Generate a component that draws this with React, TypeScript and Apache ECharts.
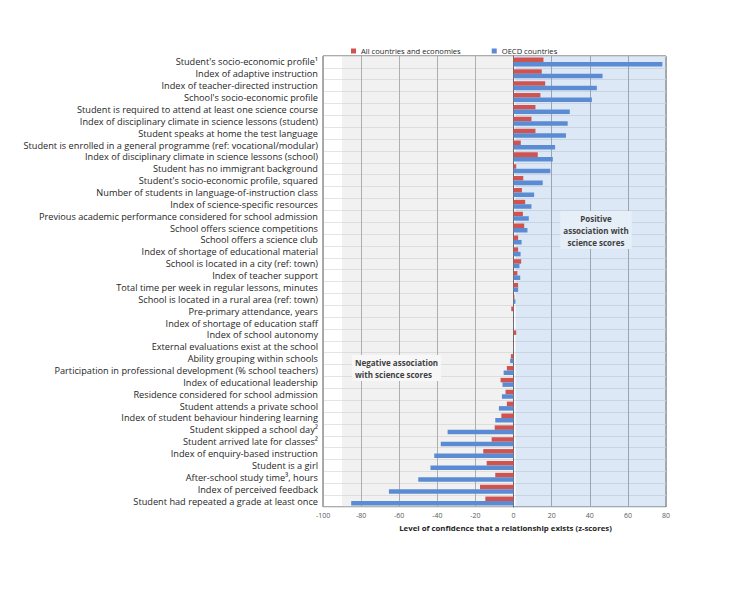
import React, { useEffect, useRef } from "react";
import * as echarts from "echarts";

const categories = [
  "Student's socio-economic profile¹",
  "Index of adaptive instruction",
  "Index of teacher-directed instruction",
  "School's socio-economic profile",
  "Student is required to attend at least one science course",
  "Index of disciplinary climate in science lessons (student)",
  "Student speaks at home the test language",
  "Student is enrolled in a general programme (ref: vocational/modular)",
  "Index of disciplinary climate in science lessons (school)",
  "Student has no immigrant background",
  "Student's socio-economic profile, squared",
  "Number of students in language-of-instruction class",
  "Index of science-specific resources",
  "Previous academic performance considered for school admission",
  "School offers science competitions",
  "School offers a science club",
  "Index of shortage of educational material",
  "School is located in a city (ref: town)",
  "Index of teacher support",
  "Total time per week in regular lessons, minutes",
  "School is located in a rural area (ref: town)",
  "Pre-primary attendance, years",
  "Index of shortage of education staff",
  "Index of school autonomy",
  "External evaluations exist at the school",
  "Ability grouping within schools",
  "Participation in professional development (% school teachers)",
  "Index of educational leadership",
  "Residence considered for school admission",
  "Student attends a private school",
  "Index of student behaviour hindering learning",
  "Student skipped a school day²",
  "Student arrived late for classes²",
  "Index of enquiry-based instruction",
  "Student is a girl",
  "After-school study time³, hours",
  "Index of perceived feedback",
  "Student had repeated a grade at least once",
];

const allCountries = [
  15.7, 14.8, 16.6, 14.1, 11.5, 9.4, 11.5, 3.8, 12.7, 1.4, 5.1, 4.4, 6.1, 4.9,
  5.6, 2.4, 2.4, 4.0, 2.0, 2.4, 0.5, -1.2, 0.1, 1.4, 0.2, -1.4, -3.5, -6.8,
  -4.2, -3.5, -6.4, -9.9, -11.5, -15.9, -14.1, -9.6, -17.6, -14.8,
];

const oecdCountries = [
  78.1, 46.7, 43.7, 41.1, 29.5, 28.4, 27.5, 21.8, 20.6, 19.3, 15.3, 10.8, 9.4,
  8.0, 7.3, 4.2, 3.7, 3.1, 3.5, 2.4, 1.0, 0.2, -0.2, 0.1, -0.2, -1.8, -5.2,
  -5.8, -6.1, -7.7, -9.6, -34.6, -38.2, -41.6, -43.6, -50.0, -65.4, -85.2,
];

const seriesNames = ["All countries and economies", "OECD countries"];
const xMin = -100;
const xMax = 80;
const xStep = 20;
const negativeZone = [-90, 0];
const positiveZone = [1, 80];

export default function App() {
  const ref = useRef<HTMLDivElement>(null);
  useEffect(() => {
    if (!ref.current) return;
    const chart = echarts.init(ref.current, null, { renderer: "svg" });
    const font = "'Open Sans', 'Liberation Sans', Arial, sans-serif";
    chart.setOption({
      animation: false,
      textStyle: { fontFamily: font },
      legend: {
        data: seriesNames,
        top: 34,
        left: 338,
        itemWidth: 5,
        itemHeight: 5,
        icon: "rect",
        itemGap: 31,
        textStyle: { fontSize: 7.6, color: "#262626", fontFamily: font },
      },
      grid: {
        left: 315,
        right: 59,
        top: 48,
        bottom: 76,
        show: true,
        borderColor: "#595959",
        borderWidth: 1,
        backgroundColor: "transparent",
      },
      xAxis: {
        type: "value",
        min: xMin,
        max: xMax,
        interval: xStep,
        axisLine: { show: false },
        axisTick: { show: false },
        axisLabel: { fontSize: 7, color: "#595959", margin: 5 },
        splitLine: { lineStyle: { color: "#a6a6a6", width: 1 } },
        name: "Level of confidence that a relationship exists (z-scores)",
        nameLocation: "middle",
        nameGap: 17,
        nameTextStyle: {
          fontSize: 7.8,
          fontWeight: "bold",
          color: "#262626",
          padding: [0, 0, 0, 22],
        },
      },
      yAxis: {
        type: "category",
        inverse: true,
        data: categories,
        axisLine: { show: true, lineStyle: { color: "#595959" } },
        axisTick: { show: false },
        axisLabel: {
          fontSize: 9.2,
          color: "#262626",
          margin: 5,
          interval: 0,
        },
        splitLine: { show: true, lineStyle: { color: "#e4e4e4", width: 1 } },
      },
      series: [
        {
          type: "line",
          data: [],
          silent: true,
          markArea: {
            silent: true,
            data: [
              [
                {
                  xAxis: negativeZone[0],
                  itemStyle: { color: "rgba(200,200,200,0.25)" },
                },
                { xAxis: negativeZone[1] },
              ],
              [
                {
                  xAxis: positiveZone[0],
                  itemStyle: { color: "rgba(120,165,225,0.25)" },
                },
                { xAxis: positiveZone[1] },
              ],
            ],
          },
        },
        {
          name: seriesNames[0],
          type: "bar",
          data: allCountries,
          itemStyle: { color: "#d0534f" },
          barGap: "0%",
          barCategoryGap: "24%",
        },
        {
          name: seriesNames[1],
          type: "bar",
          data: oecdCountries,
          itemStyle: { color: "#5b8bd2" },
          barGap: "0%",
          barCategoryGap: "24%",
        },
      ],
      graphic: [
        {
          type: "text",
          x: 588,
          y: 203,
          z: 100,
          style: {
            text: "Positive\nassociation with\nscience scores",
            align: "center",
            verticalAlign: "top",
            fontSize: 8,
            fontWeight: "bold",
            lineHeight: 12,
            fill: "#404040",
            fontFamily: font,
            backgroundColor: "#e6eef8",
            padding: [1, 3],
          },
        },
        {
          type: "text",
          x: 344,
          y: 347,
          z: 100,
          style: {
            text: "Negative association\nwith science scores",
            align: "left",
            verticalAlign: "top",
            fontSize: 8,
            fontWeight: "bold",
            lineHeight: 12,
            fill: "#404040",
            fontFamily: font,
            backgroundColor: "#f7f7f7",
            padding: [1, 3],
          },
        },
      ],
    });
    return () => chart.dispose();
  }, []);
  return <div ref={ref} style={{ width: 717, height: 575 }} />;
}
